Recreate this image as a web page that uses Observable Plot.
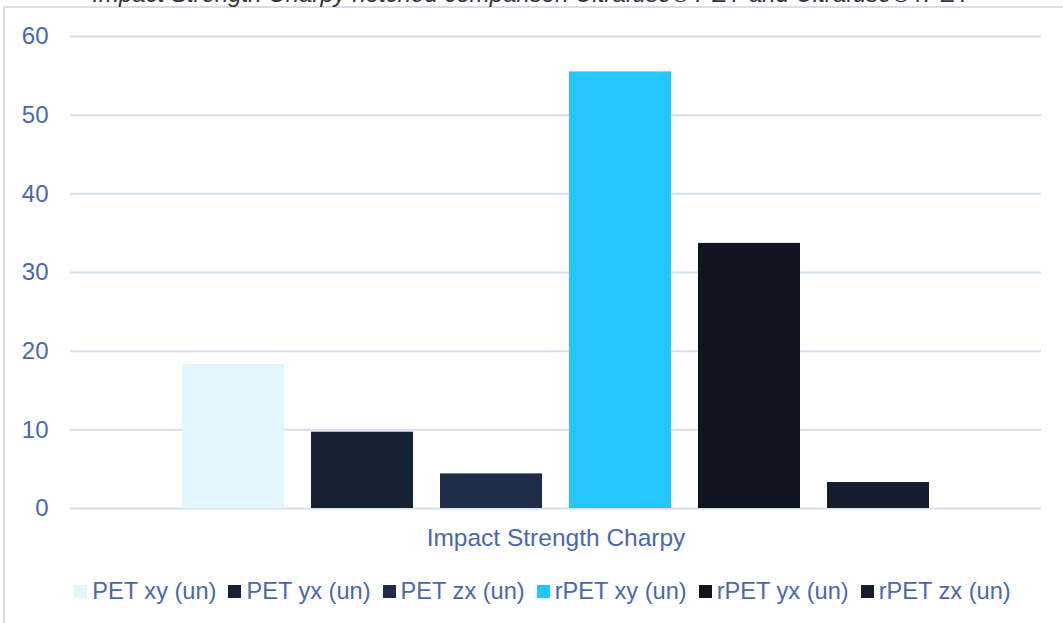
<!DOCTYPE html>
<html>
<head>
<meta charset="utf-8">
<script src="https://cdn.jsdelivr.net/npm/d3@7"></script>
<script src="https://cdn.jsdelivr.net/npm/@observablehq/plot@0.6"></script>
<style>
  html, body { margin: 0; padding: 0; background: #fff; width: 1063px; height: 623px; overflow: hidden; }
  #wrap { position: relative; width: 1063px; height: 623px; font-family: "Liberation Sans", Arial, sans-serif; }
  #frame { position: absolute; left: 3px; top: 6px; width: 1100px; height: 700px; border-left: 2px solid #D6DEEE; border-top: 2px solid #D6DEEE; }
  #title { position: absolute; left: 0; width: 1063px; top: -20px; text-align: center; font-style: italic; font-size: 24px; color: #333; white-space: nowrap; }
  #chart { position: absolute; left: 0; top: 0; }
  #legend { position: absolute; left: 22px; top: 577px; width: 1041px; text-align: center; font-size: 23.6px; color: #4A68AC; white-space: nowrap; }
  #legend .item { display: inline-flex; align-items: center; margin: 0 6px; }
  #legend .sw { display: inline-block; width: 13px; height: 13px; margin-right: 5px; }
</style>
</head>
<body>
<div id="wrap">
  <div id="frame"></div>
  <div id="title">Impact Strength Charpy notched comparison Ultrafuse® PET and Ultrafuse® rPET</div>
  <div id="chart"></div>
  <div id="legend"></div>
</div>
<script>
const category = "Impact Strength Charpy";
const series = ["PET xy (un)", "PET yx (un)", "PET zx (un)", "rPET xy (un)", "rPET yx (un)", "rPET zx (un)"];
const values = [18.3, 9.7, 4.4, 55.5, 33.7, 3.3];
const colors = ["#E2F6FD", "#172134", "#1F2D4A", "#25C5FF", "#0F1520", "#141C2E"];
const yTicks = [0, 10, 20, 30, 40, 50, 60];

const data = series.map((s, i) => ({category, series: s, value: values[i]}));
const axisColor = "#4A68AC";

const plot = Plot.plot({
  width: 1063,
  height: 570,
  marginTop: 36,
  marginBottom: 62,
  marginLeft: 70,
  marginRight: 22,
  style: { fontFamily: "'Liberation Sans', Arial, sans-serif", background: "transparent", overflow: "visible" },
  fx: { domain: [category], padding: 0, label: null, axis: null },
  x: { domain: series, paddingInner: 0.21, paddingOuter: 0.85, axis: null },
  y: { domain: [0, 60], label: null },
  color: { domain: series, range: colors },
  marks: [
    Plot.gridY(yTicks, { stroke: "#D6DEEE", strokeWidth: 2, strokeOpacity: 1 }),
    Plot.axisY(yTicks, { tickSize: 0, tickPadding: 22, fontSize: 24, fill: axisColor, label: null }),
    Plot.axisFx({ anchor: "bottom", tickSize: 0, tickPadding: 20, fontSize: 24.5, fill: axisColor, label: null }),
    Plot.barY(data, { fx: "category", x: "series", y: "value", fill: "series" })
  ]
});
document.getElementById("chart").appendChild(plot);

const legend = document.getElementById("legend");
series.forEach((s, i) => {
  const item = document.createElement("span");
  item.className = "item";
  const sw = document.createElement("span");
  sw.className = "sw";
  sw.style.background = colors[i];
  item.appendChild(sw);
  item.appendChild(document.createTextNode(s));
  legend.appendChild(item);
});
</script>
</body>
</html>
